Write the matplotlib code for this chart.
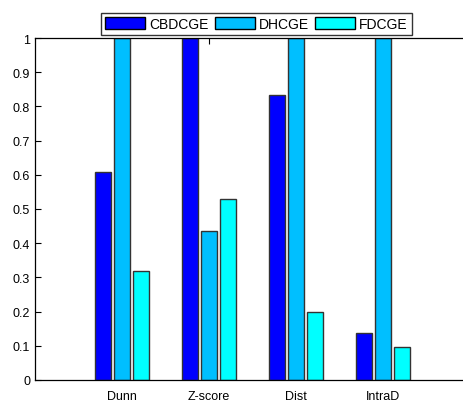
import numpy as np
import matplotlib
matplotlib.use("Agg")
import matplotlib.pyplot as plt

plt.rcParams['font.family'] = ['Liberation Sans', 'DejaVu Sans']

categories = ['Dunn', 'Z-score', 'Dist', 'IntraD']
methods = ['CBDCGE', 'DHCGE', 'FDCGE']
cbdcge = [0.607, 1.0, 0.832, 0.136]
dhcge = [1.0, 0.435, 1.0, 1.0]
fdcge = [0.318, 0.528, 0.198, 0.096]
colors = ['#0000FF', '#00BFFF', '#00FFFF']

fig = plt.figure(figsize=(4.64, 4.02), dpi=100)
# axes runs past the right edge of the picture, like the reference crop
ax = fig.add_axes([35 / 464, 1 - 381 / 402, 5.2 * 87 / 464, 342 / 402])

x = np.arange(1, len(categories) + 1)
w = 0.184
step = 0.224
series = [cbdcge, dhcge, fdcge]
for i, (vals, name, c) in enumerate(zip(series, methods, colors)):
    ax.bar(x + (i - 1) * step, vals, width=w, color=c, edgecolor='#333333',
           linewidth=1.0, label=name, zorder=2)

ax.set_xlim(0, 5.2)
ax.set_ylim(0, 1)
ax.set_yticks(np.arange(0, 1.01, 0.1))
ax.set_yticklabels(['0', '0.1', '0.2', '0.3', '0.4', '0.5', '0.6', '0.7', '0.8', '0.9', '1'])
ax.set_xticks(x)
ax.set_xticklabels(categories)
ax.tick_params(direction='in', top=True, right=True, length=4, width=0.8,
               labelsize=9, colors='black')
ax.tick_params(axis='x', pad=7)
for s in ax.spines.values():
    s.set_linewidth(0.9)

leg = ax.legend(loc='center', bbox_to_anchor=(256.5 / 464, 1 - 25 / 402),
                bbox_transform=fig.transFigure, ncol=3, fontsize=10,
                frameon=True, fancybox=False, borderpad=0.3, handlelength=2.9,
                handleheight=1.0, handletextpad=0.3, columnspacing=0.4, borderaxespad=0)
leg.get_frame().set_edgecolor('black')
leg.get_frame().set_linewidth(1.0)
for h in leg.legend_handles:
    h.set_edgecolor('black')

fig.savefig('out.png', dpi=100)
